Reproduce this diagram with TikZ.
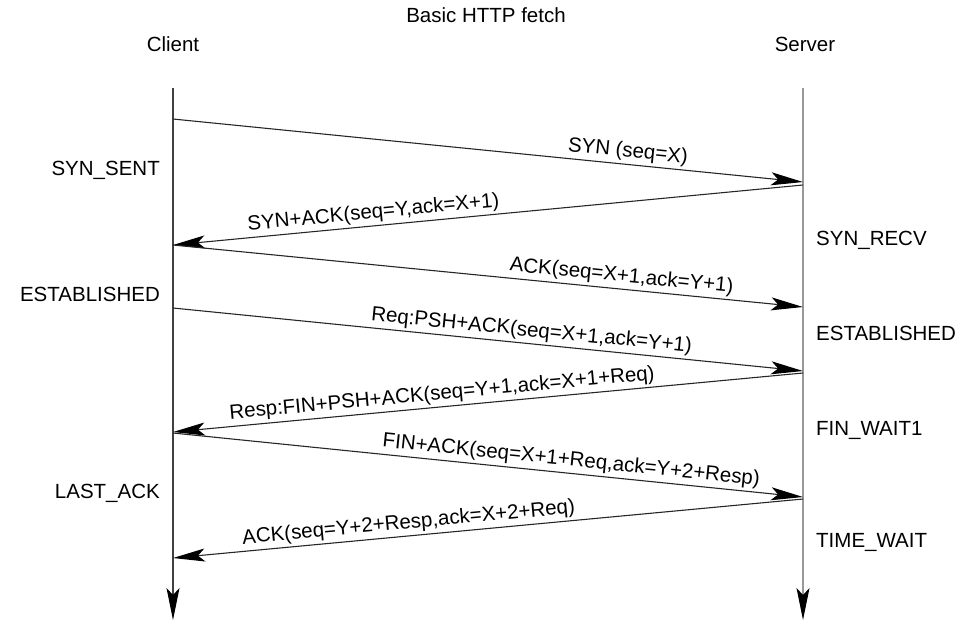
\documentclass[tikz,border=0pt]{standalone}
\usepackage{fontspec}
\setmainfont{Liberation Sans}
\usetikzlibrary{arrows.meta}
\begin{document}
\begin{tikzpicture}[x=1pt,y=-1pt,
    >={Stealth[length=32pt,width=13pt,inset=7pt,color=black]},
    font=\fontsize{20.5}{24}\selectfont,
    msg/.style={->,line width=1.1pt,draw=black!85},
    lbl/.style={above,sloped,inner sep=2.5pt},
    lifeline/.style={->,line width=1.2pt}]
  \useasboundingbox (0,0) rectangle (965,624);
  \node[anchor=base] (title) at (486,22) {Basic HTTP fetch};
  \node[anchor=base] (client) at (173,51) {Client};
  \node[anchor=base] (server) at (805,51) {Server};
  % lifelines
  \coordinate (ctop) at (173,88);
  \coordinate (cbot) at (173,620);
  \coordinate (stop) at (803,88);
  \coordinate (sbot) at (803,620);
  \draw[lifeline,black!75] (ctop) -- (cbot);
  \draw[lifeline,black!40] (stop) -- (sbot);
  % message end points (client y / server y)
  \foreach \n/\yc/\ys in {1/119/182,2/245/185,3/245/307,4/308/371,5/432/373,6/433/497,7/558/499} {
    \coordinate (c\n) at (173,\yc);
    \coordinate (s\n) at (803,\ys);
  }
  \draw[msg] (c1) -- node[lbl,pos=0.72] {SYN (seq=X)} (s1);
  \draw[msg] (s2) -- node[lbl,pos=0.68] {SYN+ACK(seq=Y,ack=X+1)} (c2);
  \draw[msg] (c3) -- node[lbl,pos=0.71] {ACK(seq=X+1,ack=Y+1)} (s3);
  \draw[msg] (c4) -- node[lbl,pos=0.567] {Req:PSH+ACK(seq=X+1,ack=Y+1)} (s4);
  \draw[msg] (s5) -- node[lbl,pos=0.571] {Resp:FIN+PSH+ACK(seq=Y+1,ack=X+1+Req)} (c5);
  \draw[msg] (c6) -- node[lbl,pos=0.63] {FIN+ACK(seq=X+1+Req,ack=Y+2+Resp)} (s6);
  \draw[msg] (s7) -- node[lbl,pos=0.624] {ACK(seq=Y+2+Resp,ack=X+2+Req)} (c7);
  % states
  \node[anchor=base east,inner sep=0pt] (synsent) at (160,175) {SYN\_SENT};
  \node[anchor=base east,inner sep=0pt] (estc) at (160,301) {ESTABLISHED};
  \node[anchor=base east,inner sep=0pt] (lastack) at (160,498) {LAST\_ACK};
  \node[anchor=base west,inner sep=0pt] (synrecv) at (816,245) {SYN\_RECV};
  \node[anchor=base west,inner sep=0pt] (ests) at (816,340) {ESTABLISHED};
  \node[anchor=base west,inner sep=0pt] (finwait) at (816,435) {FIN\_WAIT1};
  \node[anchor=base west,inner sep=0pt] (timewait) at (816,547) {TIME\_WAIT};
\end{tikzpicture}
\end{document}
